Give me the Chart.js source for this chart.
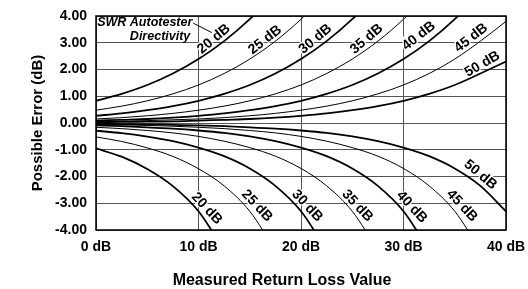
<!DOCTYPE html>
<html>
<head>
<meta charset="utf-8">
<style>
  html, body { margin: 0; padding: 0; background: #fff; }
  #wrap { width: 528px; height: 289px; }
</style>
<script src="https://cdn.jsdelivr.net/npm/chart.js@4/dist/chart.umd.min.js"></script>
</head>
<body>
<div id="wrap"><canvas id="chart" width="528" height="289"></canvas></div>
<script>
const returnLoss = [0, 2.5, 5, 7.5, 10, 12.5, 15, 17.5, 20, 22.5, 25, 27.5, 30, 32.5, 35, 37.5, 40];
const directivity = [20, 25, 30, 35, 40, 45, 50];

// possible error (dB), upper branch
const upper20 = [0.83, 1.09, 1.42, 1.85, 2.39, 3.06, 3.88, 4.86];
const upper25 = [0.48, 0.63, 0.83, 1.09, 1.42, 1.85, 2.39, 3.06, 3.88, 4.86];
const upper30 = [0.27, 0.36, 0.48, 0.63, 0.83, 1.09, 1.42, 1.85, 2.39, 3.06, 3.88, 4.86];
const upper35 = [0.15, 0.20, 0.27, 0.36, 0.48, 0.63, 0.83, 1.09, 1.42, 1.85, 2.39, 3.06, 3.88, 4.86];
const upper40 = [0.09, 0.12, 0.15, 0.20, 0.27, 0.36, 0.48, 0.63, 0.83, 1.09, 1.42, 1.85, 2.39, 3.06, 3.88, 4.86];
const upper45 = [0.05, 0.06, 0.09, 0.12, 0.15, 0.20, 0.27, 0.36, 0.48, 0.63, 0.83, 1.09, 1.42, 1.85, 2.39, 3.06, 3.80];
const upper50 = [0.03, 0.04, 0.05, 0.06, 0.09, 0.12, 0.15, 0.20, 0.27, 0.36, 0.48, 0.63, 0.83, 1.09, 1.42, 1.85, 2.30];

// lower branch
const lower20 = [-0.95, -1.26, -1.72, -2.36, -3.30, -4.76];
const lower25 = [-0.52, -0.69, -0.93, -1.25, -1.71, -2.35, -3.30, -4.76];
const lower30 = [-0.29, -0.38, -0.51, -0.68, -0.92, -1.24, -1.70, -2.35, -3.30, -4.76];
const lower35 = [-0.16, -0.21, -0.28, -0.37, -0.50, -0.68, -0.92, -1.24, -1.70, -2.35, -3.30, -4.76];
const lower40 = [-0.09, -0.12, -0.16, -0.21, -0.28, -0.37, -0.50, -0.68, -0.92, -1.24, -1.70, -2.35, -3.30, -4.76];
const lower45 = [-0.05, -0.07, -0.09, -0.12, -0.16, -0.21, -0.28, -0.37, -0.50, -0.68, -0.92, -1.24, -1.70, -2.35, -3.30, -4.76];
const lower50 = [-0.03, -0.04, -0.05, -0.07, -0.09, -0.12, -0.16, -0.21, -0.28, -0.37, -0.50, -0.68, -0.92, -1.24, -1.70, -2.35, -3.30];

const upperSeries = [upper20, upper25, upper30, upper35, upper40, upper45, upper50];
const lowerSeries = [lower20, lower25, lower30, lower35, lower40, lower45, lower50];

const FONT = '"Liberation Sans", Arial, Helvetica, sans-serif';

// where the "xx dB" tags sit, in axis units, with their rotation
const upperTags = [[11.5, 3.14, -40], [16.5, 3.1, -38], [21.4, 3.14, -40], [26.4, 3.14, -41], [31.5, 3.25, -38], [36.6, 3.18, -38], [37.7, 2.2, -30]];
const lowerTags = [[10.8, -3.2, 47], [15.7, -3.1, 47], [20.6, -3.1, 47], [25.5, -3.1, 47], [30.8, -3.14, 47], [35.7, -3.1, 47], [37.5, -1.94, 40]];

function toPoints(values) {
	return values.map((v, i) => ({ x: returnLoss[i], y: v }));
}

const datasets = [];
directivity.forEach((d, i) => {
	const w = d % 10 === 0 ? 1.8 : 1;
	datasets.push({ label: d + ' dB upper', data: toPoints(upperSeries[i]), borderColor: '#000', borderWidth: w, pointRadius: 0, cubicInterpolationMode: 'monotone' });
	datasets.push({ label: d + ' dB lower', data: toPoints(lowerSeries[i]), borderColor: '#000', borderWidth: w, pointRadius: 0, cubicInterpolationMode: 'monotone' });
});

const decorations = {
	id: 'decorations',
	afterDatasetsDraw(chart) {
		const { ctx, chartArea: a, scales: { x, y } } = chart;
		ctx.save();
		ctx.strokeStyle = '#000';
		ctx.lineWidth = 1.5;
		ctx.strokeRect(a.left, a.top, a.right - a.left, a.bottom - a.top);

		ctx.font = 'bold 14px ' + FONT;
		ctx.textAlign = 'center';
		ctx.textBaseline = 'middle';
		ctx.fillStyle = '#000';
		const tag = (t, i) => {
			ctx.save();
			ctx.translate(x.getPixelForValue(t[0]), y.getPixelForValue(t[1]));
			ctx.rotate(t[2] * Math.PI / 180);
			ctx.lineWidth = 2.5;
			ctx.strokeStyle = '#fff';
			ctx.strokeText(directivity[i] + ' dB', 0, 0);
			ctx.fillText(directivity[i] + ' dB', 0, 0);
			ctx.restore();
		};
		upperTags.forEach(tag);
		lowerTags.forEach(tag);

		// caption in the corner
		ctx.font = 'italic bold 12.5px ' + FONT;
		ctx.textAlign = 'right';
		ctx.fillText('SWR Autotester', x.getPixelForValue(9.4), y.getPixelForValue(3.74));
		ctx.fillText('Directivity', x.getPixelForValue(9.2), y.getPixelForValue(3.25));
		ctx.lineWidth = 1;
		ctx.strokeStyle = '#000';
		ctx.beginPath();
		ctx.moveTo(x.getPixelForValue(9.5), y.getPixelForValue(3.73));
		ctx.lineTo(x.getPixelForValue(11.3), y.getPixelForValue(3.38));
		ctx.stroke();

		// x axis title
		ctx.font = 'bold 16px ' + FONT;
		ctx.textAlign = 'center';
		ctx.fillText('Measured Return Loss Value', 282, 281);
		ctx.restore();
	}
};

new Chart(document.getElementById('chart'), {
	type: 'line',
	data: { datasets: datasets },
	options: {
		responsive: false,
		animation: false,
		events: [],
		layout: { padding: { top: 16, right: 22, bottom: 0, left: 0 } },
		plugins: { legend: { display: false }, tooltip: { enabled: false } },
		scales: {
			x: {
				type: 'linear',
				min: 0,
				max: 40,
				afterFit: (s) => { s.height = 59; s.paddingLeft = 0; s.paddingRight = 0; },
				grid: { color: '#555', lineWidth: 1, drawTicks: false },
				border: { display: false },
				ticks: {
					stepSize: 10,
					padding: 9,
					color: '#000',
					font: { family: FONT, size: 14, weight: 'bold' },
					callback: (v) => v + ' dB'
				}
			},
			y: {
				min: -4,
				max: 4,
				afterFit: (s) => { s.width = 96; s.paddingTop = 0; s.paddingBottom = 0; },
				grid: { color: '#555', lineWidth: 1, drawTicks: false },
				border: { display: false },
				ticks: {
					stepSize: 1,
					padding: 9,
					color: '#000',
					font: { family: FONT, size: 14, weight: 'bold' },
					callback: (v) => v.toFixed(2)
				},
				title: {
					display: true,
					text: 'Possible Error (dB)',
					color: '#000',
					font: { family: FONT, size: 15, weight: 'bold', lineHeight: 1 },
					padding: { top: 30, bottom: 0 }
				}
			}
		}
	},
	plugins: [decorations]
});
</script>
</body>
</html>
